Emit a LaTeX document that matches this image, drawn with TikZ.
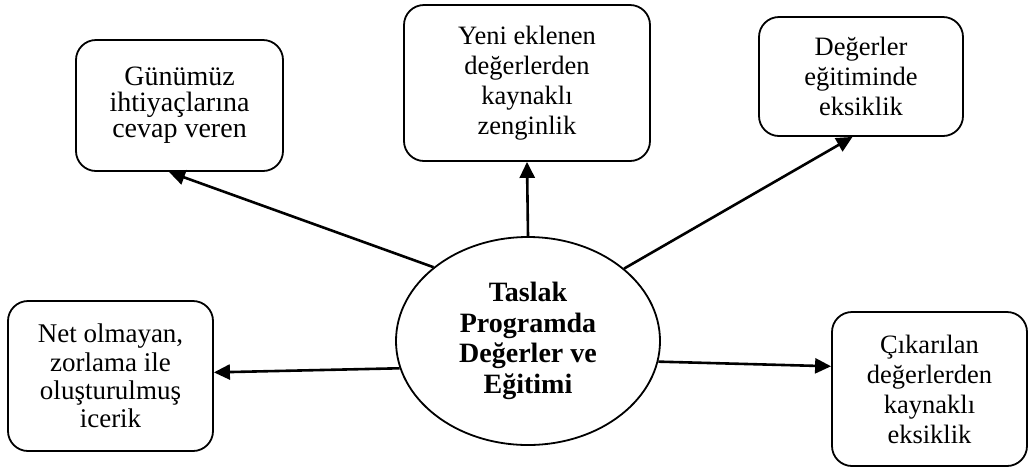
\documentclass[tikz,border=0pt]{standalone}
\usepackage{fontspec}
\setmainfont{Liberation Serif}
\usetikzlibrary{shapes.geometric,arrows.meta}
\tikzset{> = {Triangle[length=16pt,width=15pt]}, every picture/.style={line width=1.8pt}}

\begin{document}
\begin{tikzpicture}[x=1pt,y=-1pt]
\useasboundingbox (0,0) rectangle (1029,467);
\begin{scope}[every node/.style={draw,rectangle,rounded corners=20pt,align=center,inner sep=0pt,font=\fontsize{26.5}{30}\selectfont}]
\node[minimum width=207pt,minimum height=131pt,font=\fontsize{28}{26}\selectfont] (G) at (179.5,105.5) {Günümüz\\ihtiyaçlarına\\cevap veren};
\node[minimum width=246pt,minimum height=156pt] (Y) at (527,83) {Yeni eklenen\\değerlerden\\kaynaklı\\zenginlik};
\node[minimum width=204pt,minimum height=119pt] (D) at (861,76.5) {Değerler\\eğitiminde\\eksiklik};
\node[minimum width=205pt,minimum height=150pt,font=\fontsize{27}{28.3}\selectfont] (N) at (110.5,376) {Net olmayan,\\zorlama ile\\oluşturulmuş\\icerik};
\node[minimum width=195pt,minimum height=154pt] (C) at (929.5,389) {Çıkarılan\\değerlerden\\kaynaklı\\eksiklik};
\end{scope}
\node[draw,ellipse,minimum width=264pt,minimum height=208pt,inner sep=0pt,align=center,font=\fontsize{28}{30.7}\selectfont\bfseries] (T) at (528,341) {Taslak\\Programda\\Değerler ve\\Eğitimi};

\begin{scope}[every edge/.style={draw,line width=2.6pt}]
    \path [->] (T.142) edge (G.261.7);
    \path [->] (T.north) edge (Y.south);
    \path [->] (T.37.8) edge (D.262.5);
    \path [->] (T.192) edge (N.2);
    \path [->] (T.-9.4) edge (C.167.3);
\end{scope}
\end{tikzpicture}
\end{document}
